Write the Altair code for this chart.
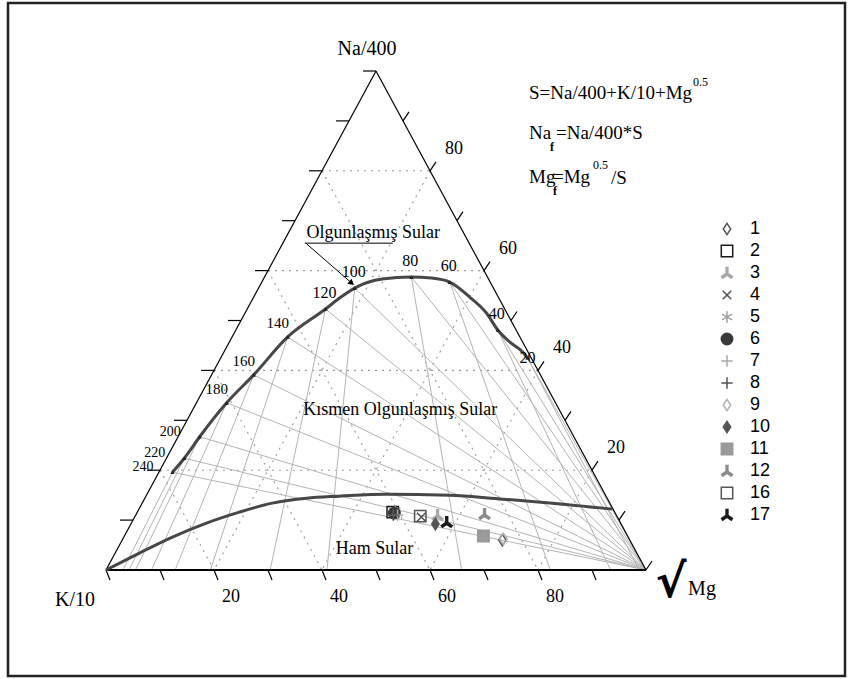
import altair as alt
import pandas as pd

# ---------------------------------------------------------------------------
# Na/400 - K/10 - sqrt(Mg) ternary diagram (percent of S = Na/400+K/10+Mg^0.5)
# ---------------------------------------------------------------------------

# Full-equilibrium curve: temperature marks (deg C) with their Na and Mg shares (%)
curve_temp = [240, 220, 200, 180, 160, 140, 120, 100, 80, 60, 40, 20]
curve_na = [19.6, 22.4, 26.7, 33.5, 39.1, 46.7, 52.3, 56.5, 58.7, 57.7, 48.1, 42.5]
curve_mg = [2.5, 3.3, 4.0, 5.6, 7.8, 10.3, 14.5, 17.8, 27.2, 34.8, 48.5, 56.8]

# additional points along the same curve between the temperature marks
curve_mid_na = [54.5, 58.3, 58.5, 54.7, 51.5, 45.7, 43.7]
curve_mid_mg = [16.0, 22.0, 31.0, 40.0, 44.7, 51.9, 55.3]

# boundary of immature waters
imm_na = [0.0, 3.4, 6.6, 9.4, 11.6, 13.4, 14.4, 14.8, 15.2, 15.0, 14.2, 13.4, 12.2]
imm_mg = [0.0, 4.5, 9.0, 13.9, 18.9, 24.1, 29.9, 35.8, 44.3, 56.1, 66.3, 76.0, 87.7]

# water samples
sample_id = ["1", "2", "3", "4", "5", "6", "7", "8", "9", "10", "11", "12", "16", "17"]
sample_na = [6.0, 11.6, 11.0, 10.6, 11.8, 11.4, 11.0, 11.0, 6.2, 9.2, 6.8, 11.2, 10.8, 9.6]
sample_mg = [70.4, 47.3, 55.9, 53.1, 47.7, 47.7, 48.5, 47.7, 70.5, 56.4, 66.5, 64.5, 52.8, 58.3]

grid_levels = [20, 40, 60, 80]
axis_labels = [20, 40, 60, 80]

# ---------------------------------------------------------------------------
W, H = 540, 499            # triangle base / height in px (plot area)
PX, PY = W / 100.0, H / 100.0
SERIF = "Liberation Serif"
SANS = "Liberation Sans"

XS = alt.Scale(domain=[0, 100], nice=False, zero=False)
YS = alt.Scale(domain=[0, 100], nice=False, zero=False)


def tx(na, mg):
    """ternary (Na, Mg) -> plot coordinates (x along the base, y = Na)."""
    return mg + na / 2.0, na


def xq(f="x"):
    return alt.X(f"{f}:Q", scale=XS, axis=None)


def yq(f="y"):
    return alt.Y(f"{f}:Q", scale=YS, axis=None)


def rules(rows, **kw):
    df = pd.DataFrame(rows, columns=["x", "y", "x2", "y2"])
    return alt.Chart(df).mark_rule(**kw).encode(
        x=xq(), y=yq(), x2=alt.X2("x2:Q"), y2=alt.Y2("y2:Q"))


# dotted 20 % grid
grid_rows = []
for c in grid_levels:
    grid_rows.append((c / 2, c, 100 - c / 2, c))                 # Na = c
    grid_rows.append(((100 - c) / 2, 100 - c, 100 - c, 0))       # K = c
    grid_rows.append((c + (100 - c) / 2, 100 - c, c, 0))         # Mg = c
grid = rules(grid_rows, color="#9a9a9a", strokeWidth=1.1, strokeDash=[2, 5])

# isotherm lines through each temperature mark
iso_rows = []
for na, mg in zip(curve_na, curve_mg):
    x, y = tx(na, mg)
    iso_rows.append((x, y, 100, 0))                        # towards sqrt(Mg) corner
    iso_rows.append((x, y, mg / (100 - na) * 100, 0))       # away from Na corner
iso = rules(iso_rows, color="#b4b4b4", strokeWidth=1)

# triangle frame
frame = rules([(0, 0, 50, 100), (50, 100, 100, 0)], color="black", strokeWidth=1.2)
base = rules([(0, 0, 100, 0)], color="black", strokeWidth=2)

# edge ticks every 10 %
tick_rows = []
for na in range(10, 101, 10):
    x = na / 2
    tick_rows.append((x, na, x - 13 / PX, na))
for na in range(0, 91, 10):
    x = 100 - na / 2
    tick_rows.append((x, na, x + 6 / PX, na + 9 / PY))
for mg in range(0, 91, 10):
    tick_rows.append((mg, 0, mg + 4 / PX, -10 / PY))
ticks = rules(tick_rows, color="black", strokeWidth=1.2)

# curves
full = pd.DataFrame([tx(n, m) for n, m in zip(curve_na + curve_mid_na, curve_mg + curve_mid_mg)],
                    columns=["x", "y"])
full_line = alt.Chart(full).mark_line(
    interpolate="monotone", color="#474747", strokeWidth=3).encode(x=xq(), y=yq(), order="x:Q")

imm = pd.DataFrame([tx(n, m) for n, m in zip(imm_na, imm_mg)], columns=["x", "y"])
imm_line = alt.Chart(imm).mark_line(
    interpolate="monotone", color="#474747", strokeWidth=3).encode(x=xq(), y=yq(), order="x:Q")

temps = pd.DataFrame([(*tx(n, m), t) for n, m, t in zip(curve_na, curve_mg, curve_temp)],
                     columns=["x", "y", "t"])
temp_marks = alt.Chart(temps).mark_point(
    shape="triangle-up", size=18, filled=True, color="#222", opacity=1).encode(x=xq(), y=yq())


def temp_labels(cond, size, **kw):
    return alt.Chart(temps).transform_filter(cond).mark_text(
        font=SERIF, fontSize=size, baseline="middle", **kw
    ).encode(x=xq(), y=yq(), text="t:Q")


temp_low = temp_labels("datum.t >= 200", 14, align="right", dx=-19, dy=-5)
temp_mid = temp_labels("datum.t >= 140 && datum.t < 200", 15, align="center", dx=-10, dy=-14)
temp_top = temp_labels("datum.t < 140 && datum.t > 20", 16, align="center", dx=-1, dy=-16)
temp_end = temp_labels("datum.t == 20", 16, align="center")

# axis numbers
bottom_lab = alt.Chart(pd.DataFrame({"x": axis_labels, "y": [0] * 4, "t": axis_labels})).mark_text(
    font=SERIF, fontSize=18, align="center", baseline="middle", dx=17, dy=27
).encode(x=xq(), y=yq(), text="t:Q")
right_lab = alt.Chart(pd.DataFrame({"x": [100 - v / 2 for v in axis_labels], "y": axis_labels,
                                    "t": axis_labels})).mark_text(
    font=SERIF, fontSize=18, align="center", baseline="middle", dx=24, dy=-22
).encode(x=xq(), y=yq(), text="t:Q")

# corner titles
corners = pd.DataFrame({"x": [50, 0, 100, 100], "y": [100, 0, 0, 0],
                        "t": ["Na/400", "K/10", "\u221a", "Mg"]})


def corner(i, **kw):
    return alt.Chart(corners.iloc[[i]]).mark_text(baseline="middle", align="center", **kw).encode(
        x=xq(), y=yq(), text="t:N")


na_title = corner(0, font=SERIF, fontSize=20, dx=-9, dy=-22)
k_title = corner(1, font=SERIF, fontSize=20, dx=-31, dy=30)
root = corner(2, font="DejaVu Sans", fontSize=46, fontWeight="bold", dx=25, dy=13)
mg_title = corner(3, font=SERIF, fontSize=20, dx=56, dy=19)

# region names
regions = pd.DataFrame({"x": [49.5, 54.5, 49.7], "y": [67.5, 32.1, 4.2],
                        "t": ["Olgunlaşmış Sular", "Kısmen Olgunlaşmış Sular", "Ham Sular"]})
region_text = alt.Chart(regions).mark_text(
    font=SERIF, fontSize=18, align="center", baseline="middle").encode(x=xq(), y=yq(), text="t:N")

# underline and pointer from the mature-water label to the curve
pointer = rules([(36.8, 65.5, 53.1, 65.5), (37.1, 65.4, 45.5, 57.5)], color="black", strokeWidth=1)
arrow = alt.Chart(pd.DataFrame({"x": [45.5], "y": [57.5]})).mark_point(
    shape="triangle-right", angle=40, size=45, filled=True, color="black", opacity=1
).encode(x=xq(), y=yq())


# formula block (pixel placement inside the plot group)
def ftxt(text, x, y, size=19, **kw):
    return alt.Chart(pd.DataFrame({"t": [text]})).mark_text(
        font=SERIF, fontSize=size, align="left", baseline="middle", **kw
    ).encode(x=alt.value(x), y=alt.value(y), text="t:N")


formula = [
    ftxt("S=Na/400+K/10+Mg", 423, 22),
    ftxt("0.5", 587, 11, size=12),
    ftxt("Na", 423, 62),
    ftxt("f", 444, 76, size=12, fontWeight="bold"),
    ftxt("=Na/400*S", 450, 62),
    ftxt("Mg", 423, 106),
    ftxt("f", 447, 120, size=12, fontWeight="bold"),
    ftxt("=Mg", 447, 106),
    ftxt("0.5", 487, 94, size=12),
    ftxt("/S", 505, 107),
]

# samples with legend
DIAM = "M0,-1L0.65,0L0,1L-0.65,0Z"
TRI = "M-0.16,-0.95L0.16,-0.95L0.16,0.05L0.95,0.62L0.75,0.9L0,0.38L-0.75,0.9L-0.95,0.62L-0.16,0.05Z"
XMARK = "M-0.75,-0.75L0.75,0.75M-0.75,0.75L0.75,-0.75"
AST = "M0,-1L0,1M-0.87,-0.5L0.87,0.5M-0.87,0.5L0.87,-0.5"
PLUS = "M-1,0L1,0M0,-1L0,1"
NONE = "transparent"

shapes = [DIAM, "square", TRI, XMARK, AST, "circle", PLUS, PLUS, DIAM, DIAM, "square", TRI, "square", TRI]
fills = [NONE, NONE, "#a8a8a8", NONE, NONE, "#3a3a3a", NONE, NONE, NONE, "#555555", "#9a9a9a",
         "#8c8c8c", NONE, "#1a1a1a"]
strokes = ["#555555", "#1a1a1a", "#a8a8a8", "#555555", "#a0a0a0", "#3a3a3a", "#a8a8a8", "#555555",
           "#b0b0b0", "#555555", "#9a9a9a", "#8c8c8c", "#555555", "#1a1a1a"]

samples = pd.DataFrame({"id": sample_id,
                        "x": [m + n / 2 for n, m in zip(sample_na, sample_mg)],
                        "y": sample_na})
legend = alt.Legend(orient="none", legendX=612, legendY=149, title=None, labelFont=SANS,
                    labelFontSize=18, labelColor="black", symbolSize=130, symbolStrokeWidth=1.5,
                    rowPadding=4, labelOffset=14, padding=0)
points = alt.Chart(samples).mark_point(size=130, strokeWidth=1.5, opacity=1).encode(
    x=xq(), y=yq(),
    shape=alt.Shape("id:N", scale=alt.Scale(domain=sample_id, range=shapes), legend=legend),
    fill=alt.Fill("id:N", scale=alt.Scale(domain=sample_id, range=fills), legend=legend),
    stroke=alt.Stroke("id:N", scale=alt.Scale(domain=sample_id, range=strokes), legend=legend),
)

# outer frame of the figure
border = alt.Chart(pd.DataFrame({"a": [0]})).mark_rect(
    fillOpacity=0, stroke="#222", strokeWidth=2.5
).encode(x=alt.value(-98), x2=alt.value(739), y=alt.value(-68), y2=alt.value(605))

chart = alt.layer(
    border, grid, iso, frame, base, ticks, imm_line, full_line, temp_marks,
    temp_low, temp_mid, temp_top, temp_end, bottom_lab, right_lab,
    na_title, k_title, root, mg_title, region_text, pointer, arrow, *formula, points,
).properties(
    width=W, height=H,
    autosize=alt.AutoSizeParams(type="none"),
    padding={"left": 106, "top": 71, "right": 204, "bottom": 109},
    background="white",
).configure_view(strokeWidth=0)

chart.save("out.html", embed_options={"renderer": "svg", "actions": False})
